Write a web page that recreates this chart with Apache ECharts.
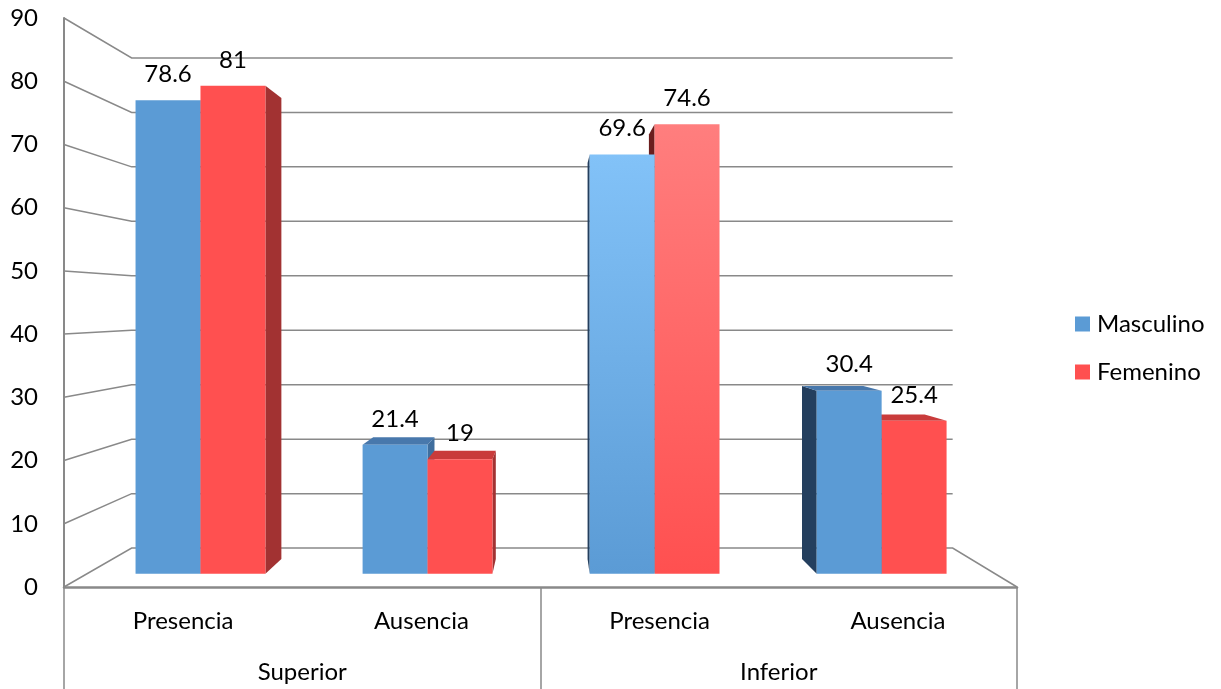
<!DOCTYPE html>
<html>
<head>
<meta charset="utf-8">
<script src="https://cdn.jsdelivr.net/npm/echarts@6/dist/echarts.min.js"></script>
<style>
  html, body { margin: 0; padding: 0; background: #fff; }
  #chart { width: 1221px; height: 689px; }
</style>
</head>
<body>
<div id="chart"></div>
<script>
// ---- data ----
const categories = ['Presencia', 'Ausencia', 'Presencia', 'Ausencia'];
const groups = ['Superior', 'Inferior'];
const seriesNames = ['Masculino', 'Femenino'];
const masculino = [78.6, 21.4, 69.6, 30.4];
const femenino = [81, 19, 74.6, 25.4];
const yTicks = [0, 10, 20, 30, 40, 50, 60, 70, 80, 90];

// ---- 3D view (in axis units; depth as a fraction toward the vanishing point) ----
const VIEW = {
  vpX: 2.05, vpY: 44.4,
  wallDepth: 0.1385,
  barFront: 0.047, barBack: 0.1,
  barHalf: 0.286
};
const FONT = 'Lato, "Open Sans", sans-serif';
const FONT_SIZE = 24;
const LINE = '#898989';
const PALETTE = {
  Masculino: { front: '#5B9BD5', light: '#82C2F8', top: '#4878AC', left: '#243F5E', right: '#3F6E9E' },
  Femenino:  { front: '#FF5050', light: '#FF7E7E', top: '#C93B3B', left: '#6B1E1E', right: '#A23232' }
};
const litCategory = 2; // this pair catches the light from above

function projector(api) {
  const vp = api.coord([VIEW.vpX, VIEW.vpY]);
  return function (x, v, t) {
    const p = api.coord([x, v]);
    return [p[0] + (vp[0] - p[0]) * t, p[1] + (vp[1] - p[1]) * t];
  };
}

function renderWall(params, api) {
  const P = projector(api);
  const v = api.value(0);
  const w = VIEW.wallDepth;
  const n = categories.length;
  const pts = [P(0, v, 0), P(0, v, w), P(n, v, w)];
  if (v === 0) pts.push(P(n, v, 0));
  return {
    type: 'polyline',
    shape: { points: pts },
    style: { stroke: LINE, lineWidth: 1.5, fill: null },
    silent: true
  };
}

function barRenderer(gi) {
  const pal = PALETTE[seriesNames[gi]];
  return function (params, api) {
    const P = projector(api);
    const c = api.value(0), v = api.value(1);
    const x0 = c + 0.5 + (gi === 0 ? -VIEW.barHalf : 0);
    const x1 = x0 + VIEW.barHalf;
    const tf = VIEW.barFront, tb = VIEW.barBack;
    const dist = Math.max(Math.abs(x0 - VIEW.vpX), Math.abs(x1 - VIEW.vpX));
    const base = Math.round(1000 - dist * 100) * 2;
    const children = [];
    if (x1 < VIEW.vpX) {
      children.push({ type: 'polygon', z2: base,
        shape: { points: [P(x1, v, tf), P(x1, v, tb), P(x1, 0, tb), P(x1, 0, tf)] },
        style: { fill: pal.right } });
    } else if (x0 > VIEW.vpX) {
      children.push({ type: 'polygon', z2: base,
        shape: { points: [P(x0, v, tf), P(x0, v, tb), P(x0, 0, tb), P(x0, 0, tf)] },
        style: { fill: pal.left } });
    }
    if (v < VIEW.vpY) {
      children.push({ type: 'polygon', z2: base,
        shape: { points: [P(x0, v, tf), P(x1, v, tf), P(x1, v, tb), P(x0, v, tb)] },
        style: { fill: pal.top } });
    }
    const fill = c === litCategory
      ? { type: 'linear', x: 0, y: 0, x2: 0, y2: 1,
          colorStops: [{ offset: 0, color: pal.light }, { offset: 1, color: pal.front }] }
      : pal.front;
    const tl = P(x0, v, tf), tr = P(x1, v, tf);
    children.push({ type: 'polygon', z2: base + 1,
      shape: { points: [tl, tr, P(x1, 0, tf), P(x0, 0, tf)] },
      style: { fill: fill } });
    children.push({ type: 'text', z2: 5000,
      x: (tl[0] + tr[0]) / 2, y: tl[1] - 26,
      style: { text: String(v), fontSize: FONT_SIZE, fontFamily: FONT, fill: '#000',
               align: 'center', verticalAlign: 'middle' } });
    return { type: 'group', children: children };
  };
}

const chart = echarts.init(document.getElementById('chart'), null, { renderer: 'canvas' });
const values = [masculino, femenino];

chart.setOption({
  animation: false,
  backgroundColor: '#fff',
  grid: { left: 64, right: 204, top: 18, bottom: 102, containLabel: false },
  legend: {
    data: seriesNames,
    orient: 'vertical',
    left: 1070, top: 307,
    icon: 'rect',
    itemWidth: 15, itemHeight: 15, itemGap: 24,
    textStyle: { fontSize: FONT_SIZE, fontFamily: FONT, color: '#000', padding: [0, 0, 0, 2] }
  },
  xAxis: [
    { type: 'value', min: 0, max: categories.length, show: false, gridIndex: 0 },
    { type: 'category', data: categories, position: 'bottom', offset: 0, gridIndex: 0,
      axisLine: { show: true, onZero: false, lineStyle: { color: LINE, width: 2.5 } },
      axisTick: { show: false },
      axisLabel: { margin: 22, fontSize: FONT_SIZE, fontFamily: FONT, color: '#000' } },
    { type: 'category', data: groups, position: 'bottom', offset: 0, gridIndex: 0,
      axisLine: { show: false, onZero: false },
      axisTick: { show: true, length: 102, lineStyle: { color: LINE, width: 1.5 } },
      axisLabel: { margin: 73, fontSize: FONT_SIZE, fontFamily: FONT, color: '#000' } }
  ],
  yAxis: {
    type: 'value', min: yTicks[0], max: yTicks[yTicks.length - 1], interval: 10,
    axisLine: { show: true, lineStyle: { color: LINE, width: 2 } },
    axisTick: { show: false },
    splitLine: { show: false },
    axisLabel: { margin: 26, fontSize: FONT_SIZE, fontFamily: FONT, color: '#000' }
  },
  series: [
    { type: 'custom', name: 'walls', xAxisIndex: 0, yAxisIndex: 0, silent: true, z: 1,
      renderItem: renderWall, data: yTicks.map(function (t) { return [t]; }),
      encode: { y: 0 } }
  ].concat(seriesNames.map(function (name, gi) {
    return {
      type: 'custom', name: name, xAxisIndex: 0, yAxisIndex: 0, silent: true, z: 2,
      itemStyle: { color: PALETTE[name].front },
      renderItem: barRenderer(gi),
      encode: { x: 0, y: 1 },
      data: values[gi].map(function (v, i) { return [i, v]; })
    };
  }))
});
</script>
</body>
</html>
